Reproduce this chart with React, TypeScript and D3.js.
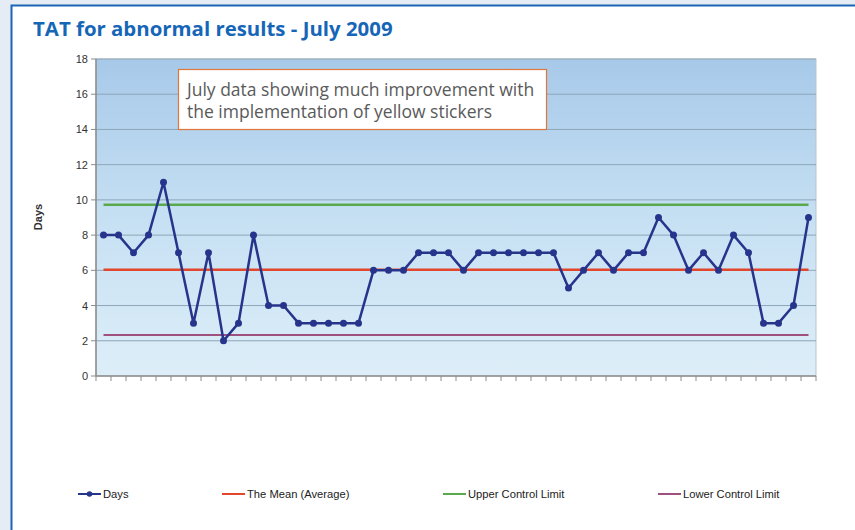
import React from 'react';
import * as d3 from 'd3';

// turnaround days per sample, July 2009
const days = [
  8, 8, 7, 8, 11, 7, 3, 7, 2, 3, 8, 4, 4, 3, 3, 3, 3, 3, 6, 6, 6, 7, 7, 7,
  6, 7, 7, 7, 7, 7, 7, 5, 6, 7, 6, 7, 7, 9, 8, 6, 7, 6, 8, 7, 3, 3, 4, 9
];
const meanValue = 6.04;
const upperLimit = 9.73;
const lowerLimit = 2.33;
const yTicks = [0, 2, 4, 6, 8, 10, 12, 14, 16, 18];

const legendItems = [
  { label: 'Days', color: '#27348b', marker: true, x: 78 },
  { label: 'The Mean (Average)', color: '#e2472d', marker: false, x: 222 },
  { label: 'Upper Control Limit', color: '#5aa94c', marker: false, x: 443 },
  { label: 'Lower Control Limit', color: '#a0507e', marker: false, x: 658 }
];

const W = 855;
const H = 530;
const plot = { left: 96, right: 816, top: 59, bottom: 376 };

const App: React.FC = () => {
  const idx = days.map((_, i) => i);
  const x = d3.scaleBand<number>().domain(idx).range([plot.left, plot.right]);
  const y = d3.scaleLinear().domain([0, 18]).range([plot.bottom, plot.top]);
  const cx = (i: number) => (x(i) || 0) + x.bandwidth() / 2;

  const line = d3.line<number>()
    .x((_, i) => cx(i))
    .y(d => y(d));

  const firstX = cx(0);
  const lastX = cx(days.length - 1);
  const boundaries = d3.range(days.length + 1).map(i => plot.left + i * x.bandwidth());

  const refLines = [
    { v: upperLimit, color: '#5aa94c', w: 2.5 },
    { v: meanValue, color: '#e2472d', w: 2.5 },
    { v: lowerLimit, color: '#a0507e', w: 2 }
  ];

  return (
    <svg width={W} height={H} style={{ position: 'absolute', left: 0, top: 0 }}
      fontFamily="'Liberation Sans', Arial, sans-serif">
      <defs>
        <linearGradient id="plotBg" x1="0" y1="0" x2="0" y2="1">
          <stop offset="0%" stopColor="#a7c9e9" />
          <stop offset="50%" stopColor="#c6e0f3" />
          <stop offset="100%" stopColor="#ddeef8" />
        </linearGradient>
      </defs>
      <rect x={0} y={0} width={W} height={H} fill="#e5ecf5" />
      <rect x={11.5} y={5.5} width={W} height={H} fill="#ffffff" stroke="#1d65b4" strokeWidth={2} />

      <text x={33} y={36} fontFamily="'Open Sans', sans-serif" fontWeight="bold" fontSize={20.4}
        fill="#1666b8">TAT for abnormal results - July 2009</text>

      {/* plot area */}
      <rect x={plot.left} y={plot.top} width={plot.right - plot.left} height={plot.bottom - plot.top}
        fill="url(#plotBg)" stroke="#b9c3cc" strokeWidth={1} />
      {yTicks.filter(t => t > 0).map(t => (
        <line key={'g' + t} x1={plot.left} x2={plot.right} y1={y(t)} y2={y(t)}
          stroke="#8ea6b8" strokeWidth={1} />
      ))}

      {/* y axis */}
      <line x1={plot.left} x2={plot.left} y1={plot.top} y2={plot.bottom} stroke="#8c8c8c" strokeWidth={1.5} />
      {yTicks.map(t => (
        <g key={'t' + t}>
          <line x1={plot.left - 5} x2={plot.left} y1={y(t)} y2={y(t)} stroke="#8c8c8c" />
          <text x={88} y={y(t) + 4} textAnchor="end" fontSize={11} fill="#333">{t}</text>
        </g>
      ))}
      <text transform={`translate(42,217) rotate(-90)`} textAnchor="middle" fontSize={11}
        fontWeight="bold" fill="#333">Days</text>

      {/* x axis */}
      <line x1={plot.left} x2={plot.right} y1={plot.bottom} y2={plot.bottom} stroke="#8c8c8c" strokeWidth={1.5} />
      {boundaries.map((bx, i) => (
        <line key={'x' + i} x1={bx} x2={bx} y1={plot.bottom} y2={plot.bottom + 5} stroke="#8c8c8c" />
      ))}

      {/* control lines */}
      {refLines.map(r => (
        <line key={r.color} x1={firstX} x2={lastX} y1={y(r.v)} y2={y(r.v)}
          stroke={r.color} strokeWidth={r.w} />
      ))}

      {/* days series */}
      <path d={line(days) || ''} fill="none" stroke="#27348b" strokeWidth={2.5} strokeLinejoin="round" />
      {days.map((d, i) => (
        <circle key={'p' + i} cx={cx(i)} cy={y(d)} r={3.5} fill="#27348b" />
      ))}

      {/* annotation */}
      <rect x={178.5} y={69.5} width={368} height={60} fill="#ffffff" stroke="#e0763a" strokeWidth={1.2} />
      <text x={187} y={95.5} fontFamily="'Open Sans', sans-serif" fontSize={17.5} fill="#5a5a5a">
        July data showing much improvement with
      </text>
      <text x={187} y={117.5} fontFamily="'Open Sans', sans-serif" fontSize={17.5} fill="#5a5a5a">
        the implementation of yellow stickers
      </text>

      {/* legend */}
      {legendItems.map(item => (
        <g key={item.label}>
          <line x1={item.x} x2={item.x + 23} y1={494} y2={494} stroke={item.color} strokeWidth={2} />
          {item.marker && <circle cx={item.x + 11.5} cy={494} r={2.8} fill={item.color} />}
          <text x={item.x + 25} y={498} fontSize={11.2} fill="#222">{item.label}</text>
        </g>
      ))}
    </svg>
  );
};

export default App;
